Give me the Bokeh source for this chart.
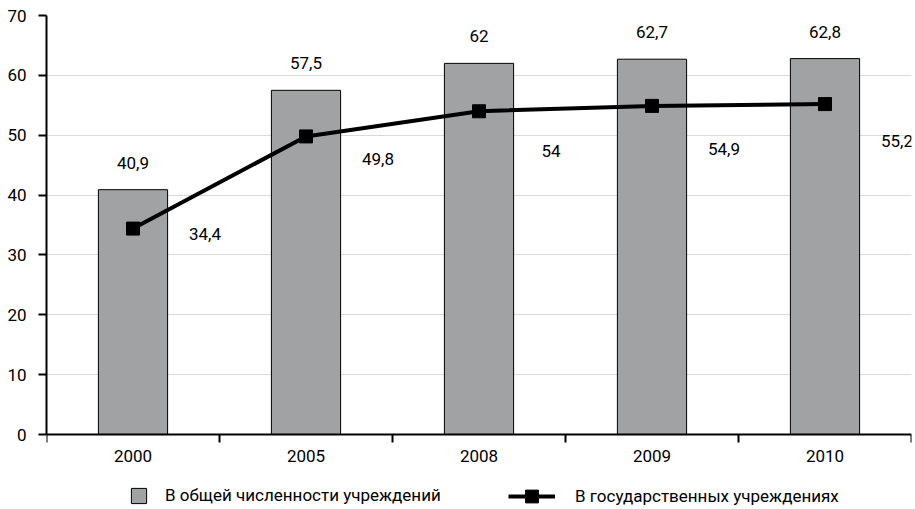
from bokeh.plotting import figure
from bokeh.models import (ColumnDataSource, LabelSet, FixedTicker, Legend, LegendItem)
from bokeh.core.properties import value
from bokeh.embed import file_html
from bokeh.resources import INLINE

# ---- data ----
years = ["2000", "2005", "2008", "2009", "2010"]
total = [40.9, 57.5, 62, 62.7, 62.8]          # В общей численности учреждений
state = [34.4, 49.8, 54, 54.9, 55.2]          # В государственных учреждениях
y_ticks = [0, 10, 20, 30, 40, 50, 60, 70]
series_names = ["В общей численности учреждений", "В государственных учреждениях"]

# ---- styles / layout ----
FONT = "Roboto"
FS = "17px"
BAR_COLOR = "#a1a2a4"
state_label_dy = [-5, -23, -40, -43, -37]     # label offsets (px), styling only

W, H = 915, 509
LEFT, RIGHT, TOP = 46, 4, 15
PLOT_PX = 419                                  # pixels from 0 to 70
Y_MAX = 70
frame_h = H - TOP
y_min = Y_MAX - frame_h * Y_MAX / PLOT_PX      # extend range so legend fits under axis


def fmt(v):
    return f"{v:g}".replace(".", ",")


xs = [i + 0.5 for i in range(len(years))]
src = ColumnDataSource(dict(
    x=xs, total=total, state=state,
    total_lbl=[fmt(v) for v in total],
    state_lbl=[fmt(v) for v in state],
    dy=state_label_dy,
))

p = figure(width=W, height=H, x_range=(0, len(years)), y_range=(y_min, Y_MAX),
           output_backend="svg", toolbar_location=None,
           min_border_left=LEFT, min_border_right=RIGHT, min_border_top=TOP,
           min_border_bottom=0)
p.outline_line_color = None
p.xgrid.grid_line_color = None
p.ygrid.grid_line_color = "#d9d9d9"
p.ygrid.grid_line_width = 1

bars = p.vbar(x="x", top="total", width=0.4, bottom=0, source=src,
              fill_color=BAR_COLOR, line_color="black", line_width=1)
ln = p.line(x="x", y="state", source=src, line_color="black", line_width=4)
mk = p.scatter(x="x", y="state", source=src, marker="square", size=13,
               fill_color="black", line_color="black")

# labels
p.add_layout(LabelSet(x="x", y="total", text="total_lbl", source=src,
                      text_align="center", text_baseline="middle", y_offset=27,
                      text_font=value(FONT), text_font_size=value(FS),
                      text_color="black"))
p.add_layout(LabelSet(x="x", y="state", text="state_lbl", source=src,
                      text_align="center", text_baseline="middle",
                      x_offset=72, y_offset="dy",
                      text_font=value(FONT), text_font_size=value(FS),
                      text_color="black"))

# axes
xa = p.xaxis[0]
xa.fixed_location = 0
xa.ticker = FixedTicker(ticks=xs, minor_ticks=list(range(len(years) + 1)))
xa.major_label_overrides = {x: y for x, y in zip(xs, years)}
xa.major_tick_line_color = None
xa.major_tick_in = 0
xa.major_tick_out = 8
xa.minor_tick_in = 0
xa.minor_tick_out = 8
xa.minor_tick_line_color = "black"
xa.minor_tick_line_width = 2
xa.axis_line_color = "black"
xa.axis_line_width = 2
xa.major_label_standoff = 7
xa.major_label_text_font = FONT
xa.major_label_text_font_size = FS
xa.major_label_text_color = "black"

ya = p.yaxis[0]
ya.ticker = FixedTicker(ticks=y_ticks)
ya.bounds = (0, Y_MAX)
ya.minor_tick_line_color = None
ya.major_tick_in = 0
ya.major_tick_out = 8
ya.major_tick_line_width = 2
ya.major_tick_line_color = "black"
ya.axis_line_color = "black"
ya.axis_line_width = 2
ya.major_label_standoff = 12
ya.major_label_text_font = FONT
ya.major_label_text_font_size = FS
ya.major_label_text_color = "black"


# legends (inside the extended frame, under the x axis)
def mk_legend(items, loc, gw, gh, standoff):
    return Legend(items=items, location=loc, orientation="horizontal",
                  glyph_width=gw, glyph_height=gh, label_standoff=standoff,
                  padding=0, margin=0, spacing=0,
                  border_line_color=None, background_fill_alpha=0,
                  label_text_font=FONT, label_text_font_size=FS,
                  label_text_color="black", label_text_baseline="middle")


lg1 = mk_legend([LegendItem(label=series_names[0], renderers=[bars])], (83, 4), 19, 19, 17)
lg2 = mk_legend([LegendItem(label=series_names[1], renderers=[ln, mk])], (462, -3), 47, 32, 20)
p.add_layout(lg1, "center")
p.add_layout(lg2, "center")

open("out.html", "w").write(file_html(p, INLINE))
